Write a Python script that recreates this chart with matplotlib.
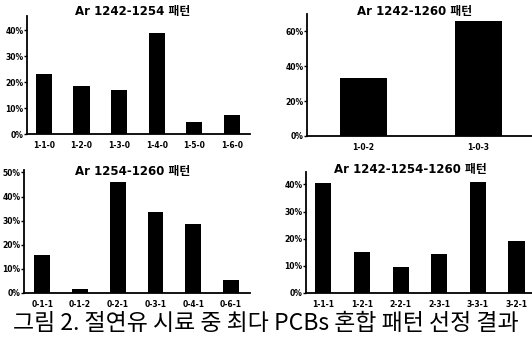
import matplotlib.pyplot as plt
from matplotlib.ticker import PercentFormatter

plt.rcParams["font.family"] = ["DejaVu Sans", "Noto Sans CJK KR"]

W, H = 532, 337

# panel data (percent)
p1_labels = ["1-1-0", "1-2-0", "1-3-0", "1-4-0", "1-5-0", "1-6-0"]
p1_values = [23, 18.5, 17, 39, 4.5, 7.5]

p2_labels = ["1-0-2", "1-0-3"]
p2_values = [33, 66]

p3_labels = ["0-1-1", "0-1-2", "0-2-1", "0-3-1", "0-4-1", "0-6-1"]
p3_values = [15.8, 1.8, 46, 33.7, 28.6, 5.4]

p4_labels = ["1-1-1", "1-2-1", "2-2-1", "2-3-1", "3-3-1", "3-2-1"]
p4_values = [40.5, 15, 9.5, 14.4, 41, 19]

caption = "그림 2. 절연유 시료 중 최다 PCBs 혼합 패턴 선정 결과"


def px_axes(fig, left, right, top, bottom):
    return fig.add_axes([left / W, 1 - bottom / H, (right - left) / W, (bottom - top) / H])


def draw_panel(ax, labels, values, ymax, yticks, width, xlim, title, tx, ty):
    x = range(len(values))
    ax.bar(x, values, width=width, color="black")
    ax.set_xlim(*xlim)
    ax.set_ylim(0, ymax)
    ax.set_yticks(yticks)
    ax.yaxis.set_major_formatter(PercentFormatter(decimals=0))
    ax.set_xticks(list(x))
    ax.set_xticklabels(labels)
    for s in ["top", "right"]:
        ax.spines[s].set_visible(False)
    for s in ["left", "bottom"]:
        ax.spines[s].set_linewidth(1.3)
    ax.tick_params(axis="y", length=2, width=1, pad=0.5, labelsize=5.5, direction="out")
    ax.tick_params(axis="x", length=0, pad=5, labelsize=5.5)
    for t in ax.get_yticklabels() + ax.get_xticklabels():
        t.set_fontweight("bold")
    fig.text(tx / W, 1 - ty / H, title, ha="center", va="center",
             fontsize=8.5, fontweight="bold")


fig = plt.figure(figsize=(W / 100, H / 100), dpi=100)

ax1 = px_axes(fig, 27, 250, 16, 134)
draw_panel(ax1, p1_labels, p1_values, 45.4, [0, 10, 20, 30, 40], 0.43, (-0.45, 5.48),
           "Ar 1242-1254 패턴", 133, 12)

ax2 = px_axes(fig, 307, 532, 14, 136)
draw_panel(ax2, p2_labels, p2_values, 70, [0, 20, 40, 60], 0.41, (-0.49, 1.47),
           "Ar 1242-1260 패턴", 415, 12)

ax3 = px_axes(fig, 24, 250, 170, 293)
draw_panel(ax3, p3_labels, p3_values, 51, [0, 10, 20, 30, 40, 50], 0.42, (-0.48, 5.5),
           "Ar 1254-1260 패턴", 133, 172)

ax4 = px_axes(fig, 306, 532, 172, 293)
draw_panel(ax4, p4_labels, p4_values, 44.6, [0, 10, 20, 30, 40], 0.42, (-0.45, 5.4),
           "Ar 1242-1254-1260 패턴", 410, 169)

fig.text(266 / W, 1 - 323 / H, caption, ha="center", va="center",
         fontsize=16.5, family=["Noto Sans CJK KR", "DejaVu Sans"])

fig.savefig("out.png", dpi=100)
